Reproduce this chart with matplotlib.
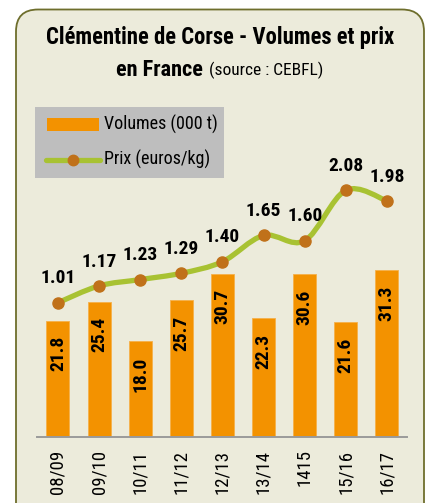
import numpy as np
import matplotlib
matplotlib.use('Agg')
from matplotlib import pyplot as plt
from matplotlib.patches import FancyBboxPatch, Rectangle, PathPatch
from matplotlib.path import Path

plt.rcParams['font.family'] = ['Roboto Condensed', 'Liberation Sans Narrow', 'Roboto', 'DejaVu Sans']

# data
seasons = ['08/09', '09/10', '10/11', '11/12', '12/13', '13/14', '1415', '15/16', '16/17']
volumes = [21.8, 25.4, 18.0, 25.7, 30.7, 22.3, 30.6, 21.6, 31.3]
prices = [1.01, 1.17, 1.23, 1.29, 1.40, 1.65, 1.60, 2.08, 1.98]

orange = '#F39200'
green = '#A8C232'
brown = '#C0711A'
panel = '#ECEBDB'

fig = plt.figure(figsize=(4.3, 5.03), dpi=100)

# background panel, in pixel coordinates
bg = fig.add_axes([0, 0, 1, 1], zorder=0)
bg.set_xlim(0, 430)
bg.set_ylim(503, 0)
bg.axis('off')
bg.add_patch(FancyBboxPatch((16, 9.5), 408, 530, boxstyle='round,pad=0,rounding_size=22',
                            facecolor=panel, edgecolor='#6E6E2C', linewidth=1.3))

bg.text(220, 37, 'Clémentine de Corse - Volumes et prix', ha='center', va='center',
        fontsize=16.3, fontweight='bold')
bg.text(203, 70, 'en France', ha='right', va='center', fontsize=16, fontweight='bold')
bg.text(209, 70.5, '(source : CEBFL)', ha='left', va='center', fontsize=12.5)

# legend box
bg.add_patch(Rectangle((35, 107), 189, 71, facecolor='#BEBEBE', edgecolor='none'))
bg.add_patch(Rectangle((47, 118), 52, 13, facecolor=orange, edgecolor='none'))
bg.text(104, 124.5, 'Volumes (000 t)', ha='left', va='center', fontsize=13)
bg.plot([46, 100], [160, 160], color=green, lw=3.8, solid_capstyle='round')
bg.plot([73], [160], 'o', color=brown, ms=7.5)
bg.text(104, 159, 'Prix (euros/kg)', ha='left', va='center', fontsize=13)

# main chart
ax = fig.add_axes([37 / 430, 66 / 503, 370 / 430, 337 / 503], zorder=1)
ax.patch.set_alpha(0)
x = np.arange(len(seasons))
ax.bar(x, volumes, width=0.56, color=orange, edgecolor='#F6B04A', linewidth=0.6)
for xi, v in zip(x, volumes):
    ax.annotate(f'{v:.1f}', (xi, v), xytext=(0, -11), textcoords='offset points',
                rotation=90, ha='center', va='top', fontsize=14, fontweight='bold')
ax.set_xlim(-0.51, 8.49)
ax.set_ylim(0, 63.3)
ax.set_yticks([])
for s in ['top', 'left', 'right']:
    ax.spines[s].set_visible(False)
ax.spines['bottom'].set_color('#9A9A9A')
ax.spines['bottom'].set_linewidth(1.4)
ax.set_xticks(x)
ax.set_xticklabels(seasons, rotation=90, fontsize=13.5, va='top')
ax.tick_params(axis='x', length=0, pad=9)

# price line on a second scale, smoothed with bezier segments
ax2 = ax.twinx()
ax2.set_ylim(-0.269, 2.94)
ax2.axis('off')
pts = np.column_stack([x, prices]).astype(float)
verts = [pts[0]]
codes = [Path.MOVETO]
n = len(pts)
for i in range(n - 1):
    p0 = pts[max(i - 1, 0)]
    p1 = pts[i]
    p2 = pts[i + 1]
    p3 = pts[min(i + 2, n - 1)]
    c1 = p1 + (p2 - p0) / 6
    c2 = p2 - (p3 - p1) / 6
    verts += [c1, c2, p2]
    codes += [Path.CURVE4] * 3
ax2.add_patch(PathPatch(Path(verts, codes), facecolor='none', edgecolor=green,
                        lw=3.8, capstyle='round'))
ax2.plot(x, prices, 'o', color=brown, ms=8, zorder=3)
for xi, p in zip(x, prices):
    ax2.annotate(f'{p:.2f}', (xi, p), xytext=(0, 17.5), textcoords='offset points',
                 ha='center', va='center', fontsize=14, fontweight='bold')

fig.savefig('out.png', dpi=100)
